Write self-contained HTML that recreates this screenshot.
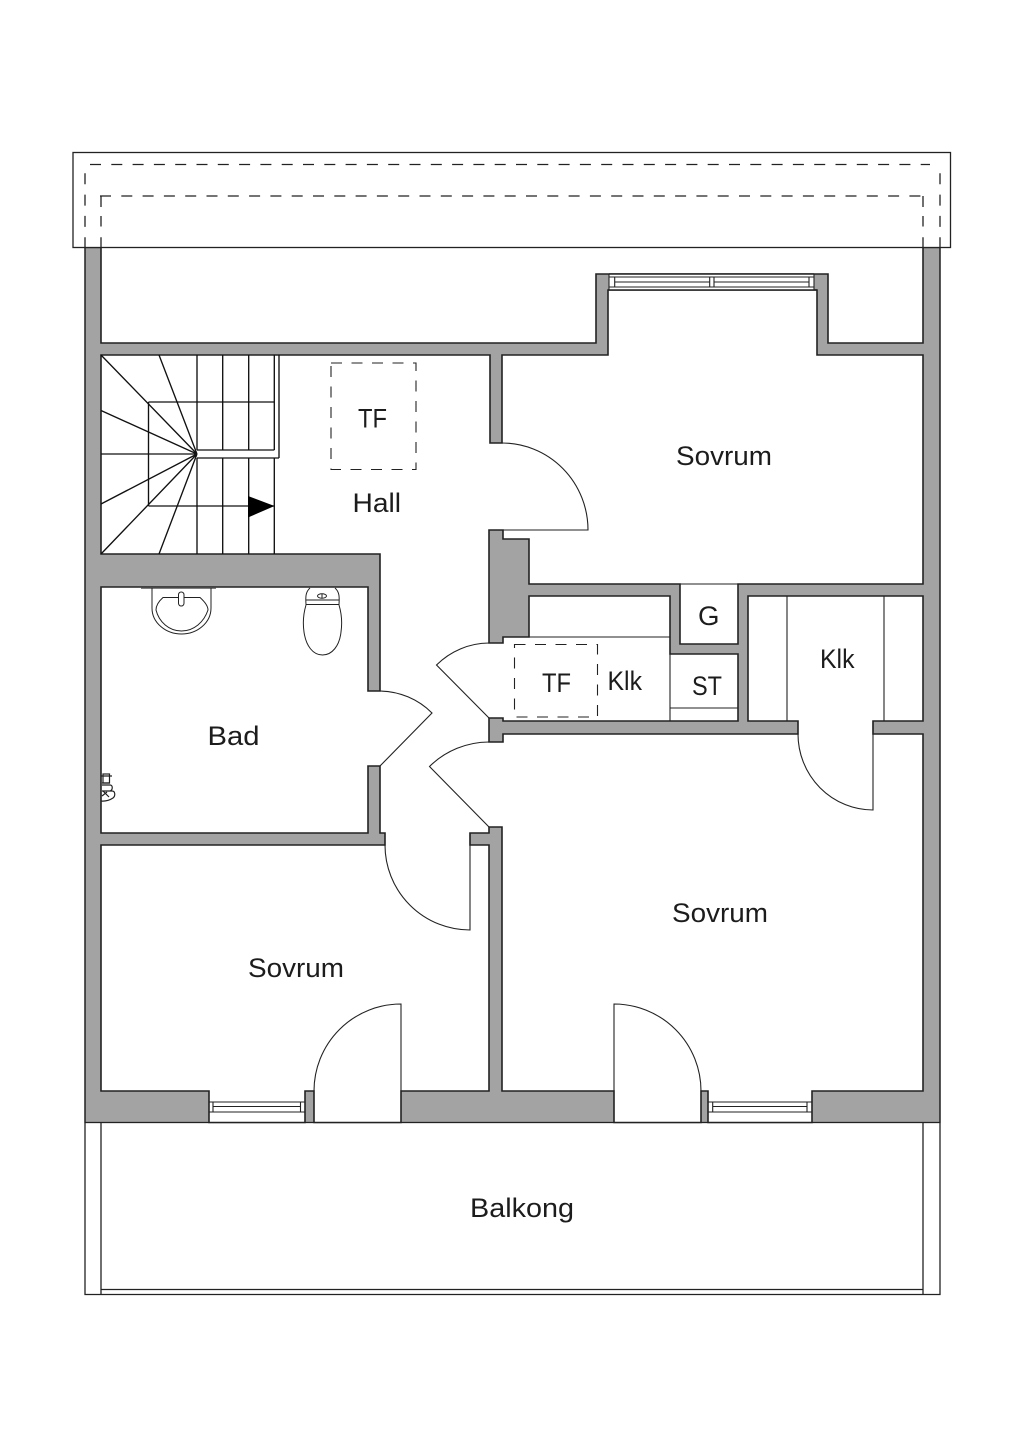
<!DOCTYPE html>
<html><head><meta charset="utf-8"><style>
html,body{margin:0;padding:0;background:#fff}
svg{display:block}
text{font-family:"Liberation Sans",sans-serif;font-size:26.5px;fill:#1c1c1c}
</style></head><body>
<svg width="1024" height="1448" viewBox="0 0 1024 1448" xmlns="http://www.w3.org/2000/svg">
<rect width="1024" height="1448" fill="#fff"/>
<!-- wall mass -->
<rect x="85" y="247.5" width="855" height="875" fill="#a3a3a3" stroke="#222" stroke-width="1.3"/>
<!-- void top -->
<polygon points="84,246 941,246 941,247.5 923,247.5 923,343 828,343 828,274 596,274 596,343 101,343 101,247.5 84,247.5" fill="#fff"/>
<path d="M85 247.5V1122.5M940 247.5V1122.5" stroke="#222" stroke-width="1.3" fill="none"/>
<polyline points="101,247.5 101,343 596,343 596,274 828,274 828,343 923,343 923,247.5" fill="none" stroke="#222" stroke-width="1.6"/>
<!-- rooms -->
<polygon fill="#fff" stroke="#222" stroke-width="1.6" stroke-linejoin="miter" points="101,355 490,355 490,443 502,443 502,355 608,355 608,290 817,290 817,355 923,355 923,584 738,584 738,644 680,644 680,584 529,584 529,539 503,539 503,530 489,530 489,643 503,643 503,637 529,637 529,596 670,596 670,654 738,654 738,721 503,721 503,718 489,718 489,742 503,742 503,734 798,734 798,721 748,721 748,596 923,596 923,721 873,721 873,734 923,734 923,1091 812,1091 812,1122.5 708,1122.5 708,1091 701,1091 701,1122.5 614,1122.5 614,1091 502,1091 502,827 489,827 489,833 470,833 470,845 489,845 489,1091 401,1091 401,1122.5 314,1122.5 314,1091 305,1091 305,1122.5 209,1122.5 209,1091 101,1091 101,845 385,845 385,833 380,833 380,766 368,766 368,833 101,833 101,587 368,587 368,691 380,691 380,554 101,554"/>
<!-- top window opening -->
<rect x="609" y="274" width="205" height="16" fill="#fff"/>
<path d="M609 274H814M608 290H817" stroke="#222" stroke-width="1.6" fill="none"/>
<!-- thin interior lines -->
<g fill="none" stroke="#222" stroke-width="1.1">
<path d="M529 637H670M670 654V721M670 708H738M680 584H738M787 596V721M884 596V721"/>
<!-- doors -->
<path d="M502 443A86 87 0 0 1 588 530H503"/>
<path d="M380 691A75 75 0 0 1 432 713L380 766"/>
<path d="M489 643A75 75 0 0 0 436.5 665L489 718"/>
<path d="M489 742A85 85 0 0 0 429.5 766.5L489 827"/>
<path d="M385 845A85 85 0 0 0 470 930V833"/>
<path d="M798 734A75 76 0 0 0 873 810V721"/>
<path d="M314 1091A87 87 0 0 1 401 1004V1091"/>
<path d="M701 1091A87 87 0 0 0 614 1004V1091"/>
<!-- bottom windows -->
<path d="M209 1102H305M209 1112H305M213 1106.5H300.5M213 1102V1112M300.5 1102V1112"/>
<path d="M708 1102H812M708 1112H812M712.7 1106.5H807M712.7 1102V1112M807 1102V1112"/>
<!-- top window -->
<path d="M609 274V290M814 274V290M609 277H814M609 287H814M614.7 282H709.7M714 282H809M614.7 277V287M709.7 277V287M714 277V287M809 277V287"/>
</g>
<!-- stairs -->
<g fill="none" stroke="#111" stroke-width="1.35">
<path d="M101 355L197 454M159 355L197 454M101 410.5L197 454M101 454H197M101 504L197 454M101 554L197 454M159 554L197 454"/>
<path d="M197 355V450M222.7 355V450M248.7 355V450M274.3 355V450M279 355V458M197 458V554M222.7 458V554M248.7 458V554M274.3 458V554"/>
<path d="M148.5 402H274.3M148.5 506H274.3M148.5 402V506M197 450H274.3M197 458H279"/>
</g>
<polygon points="248,496 248,517.5 274.5,506" fill="#000"/>
<!-- roof -->
<rect x="73" y="152.5" width="877.5" height="95" fill="#fff" stroke="#222" stroke-width="1.3"/>
<g fill="none" stroke="#222" stroke-width="1.3" stroke-dasharray="11 10.3">
<path d="M90 164.5H930"/>
<path d="M100 196H923"/>
<path d="M85 173.3V247"/>
<path d="M940 173.3V247"/>
<path d="M101 216V247" stroke-dasharray="10.5 10.8"/>
<path d="M923 216V247" stroke-dasharray="10.5 10.8"/>
<path d="M101 196V207M923 196V207" stroke-dasharray="none"/>
</g>
<!-- TF dashed -->
<g fill="none" stroke="#222" stroke-width="1.1" stroke-dasharray="11 9.5">
<rect x="331" y="363" width="85" height="106.5"/>
<rect x="514.5" y="644.5" width="83" height="72.5"/>
</g>
<!-- balcony -->
<g fill="none" stroke="#222" stroke-width="1.3">
<path d="M85 1122.5V1294.5H940V1122.5M101 1122.5V1294.5M923 1122.5V1294.5M101 1289.5H923"/>
</g>
<!-- sink -->
<g fill="none" stroke="#222" stroke-width="1">
<path d="M141 588H216" stroke="#555" stroke-width="1.6"/>
<path d="M152 588V608C152 623 166 634 181.5 634C197 634 211 623 211 608V588"/>
<path d="M163 597.5H200C205 602 208 606 208 610C204 622 194 631 181.5 631C169 631 159 622 156 610C156 606 158 602 163 597.5Z"/>
<rect x="178.5" y="592" width="5.5" height="14" rx="2.7" fill="#fff"/>
<!-- toilet -->
<path d="M310 588C305.5 592 305.5 597 306 604.5H339C339.5 597 339.5 592 335 588"/>
<path d="M306 600H339"/>
<path d="M306 605C303 615 303 625 304 632C306 646 313 655 322.5 655C332 655 339.5 646 341 632C342 625 342 615 339 605"/>
<ellipse cx="322" cy="596" rx="4.5" ry="2.2"/>
<path d="M322 594V598"/>
<!-- towel/tap fixture -->
<g stroke-width="1.2">
<rect x="103" y="774" width="6.5" height="9"/>
<path d="M101 776H112M102 783H110"/>
<path d="M102 785H110C113 785 113 790 110 791M102 791H112C115.5 791 115.5 796 113 798C110 800 106 801.5 101 801"/>
<path d="M103 791L109 797M102 796L107 792"/>
</g>
</g>
<!-- labels -->
<text x="676" y="465" textLength="96" lengthAdjust="spacingAndGlyphs">Sovrum</text>
<text x="352.5" y="512" textLength="48.5" lengthAdjust="spacingAndGlyphs">Hall</text>
<text x="358" y="427.5" textLength="29" lengthAdjust="spacingAndGlyphs">TF</text>
<text x="207.5" y="745" textLength="52" lengthAdjust="spacingAndGlyphs">Bad</text>
<text x="542" y="692" textLength="29" lengthAdjust="spacingAndGlyphs">TF</text>
<text x="607.5" y="690" textLength="34.5" lengthAdjust="spacingAndGlyphs">Klk</text>
<text x="698" y="625" textLength="21.5" lengthAdjust="spacingAndGlyphs">G</text>
<text x="692" y="695" textLength="30" lengthAdjust="spacingAndGlyphs">ST</text>
<text x="820" y="668" textLength="34.5" lengthAdjust="spacingAndGlyphs">Klk</text>
<text x="672" y="922" textLength="96" lengthAdjust="spacingAndGlyphs">Sovrum</text>
<text x="248" y="977" textLength="96" lengthAdjust="spacingAndGlyphs">Sovrum</text>
<text x="470" y="1217" textLength="104" lengthAdjust="spacingAndGlyphs">Balkong</text>
</svg>
</body></html>
